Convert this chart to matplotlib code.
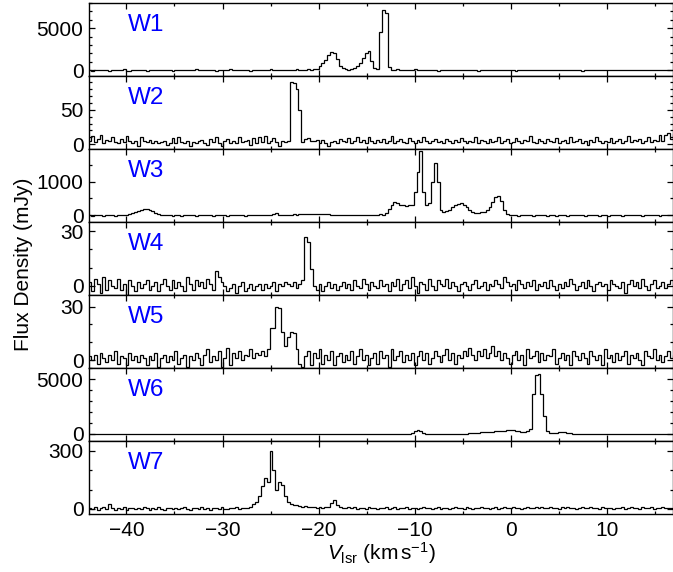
import numpy as np
import matplotlib
matplotlib.use("Agg")
import matplotlib.pyplot as plt
from matplotlib.ticker import FixedLocator, MultipleLocator

plt.rcParams['font.family'] = ['Liberation Sans', 'DejaVu Sans']
plt.rcParams['mathtext.fontset'] = 'custom'
plt.rcParams['mathtext.rm'] = 'Liberation Sans'
plt.rcParams['mathtext.it'] = 'Liberation Sans:italic'

# channel grid (km/s)
V_START = -44.0
CHAN = 0.3

names = ["W1", "W2", "W3", "W4", "W5", "W6", "W7"]

w1 = [20, -60, 10, 70, -40, 0, 50, -70, 10, 40,
      -10, 70, 90, -50, -80, 10, 60, -40, 0, 50,
      -60, 10, 70, 0, -40, 40, -10, 60, 0, -60,
      10, 50, -40, 0, 60, -10, 10, 80, -40, 0,
      40, -10, 0, 60, -60, 10, 40, -10, 0, 80,
      -40, 10, 60, 0, -10, 40, -60, 10, 0, 60,
      40, -40, 10, 80, 0, -10, 40, 60, -40, 10,
      0, 60, 90, 60, 0, 40, 100, 30, 80, 100,
      500, 900, 1200, 1800, 2150, 2000, 1300, 500, 200, 80,
      60, 100, 200, 500, 900, 1400, 2100, 2300, 1100, 200,
      150, 4500, 7200, 6800, 400, 60, 30, 80, 20, -30,
      60, 0, 40, 80, -40, 10, 60, 0, -40, 40,
      10, -60, 40, 0, 60, -10, 40, 10, -40, 0,
      60, 10, -40, 40, 0, -60, 10, 40, -10, 60,
      0, 40, -40, 10, 60, -10, 0, 40, -60, 10,
      40, 0, -40, 60, 10, -10, 40, 0, -40, 10,
      60, -10, 0, 40, -40, 10, 60, 0, -10, 40,
      0, -60, 40, 10, -10, 60, 0, 40, -40, 10,
      40, -10, 0, 60, -40, 10, 40, -10, 0, 40,
      -40, 10, 60, 0, -10, 40, 0, -40, 60, 10,
      0, 40, -10, 10]

w2 = [5, 12, 3, 8, 13, 2, 6, 4, 10, 3,
      1, 7, 3, 12, 4, 2, 5, -2, 11, 4,
      3, 6, 2, 4, 1, 3, 5, -1, 2, 9,
      1, 10, 3, 2, 5, -2, 3, 1, 4, 6,
      2, -1, 7, 3, 10, 2, -3, 4, 8, 1,
      5, 2, 11, 3, 4, 6, -1, 9, 2, 10,
      3, 12, 1, 4, 9, 3, -2, 5, 3, 4,
      90, 89, 80, 50, 3, 8, 9, 5, 4, 6,
      2, 6, 1, -2, 3, 5, 2, 7, 4, 3,
      9, 1, 5, 11, 3, 6, 2, 10, 4, 1,
      6, 3, 8, 2, 5, 12, 1, 4, 7, 3,
      2, 9, 4, 1, 6, 3, 10, 5, 2, 4,
      8, 3, 5, 1, 7, 4, 2, 6, 3, 9,
      4, 1, 5, 3, 10, 2, 6, 4, 1, 8,
      3, 5, 11, 2, 4, 7, 1, 3, 9, 5,
      2, 6, 4, 12, 3, 1, 8, 4, 2, 7,
      5, 3, 9, 1, 4, 6, 2, 11, 3, 5,
      8, 2, 4, -1, 6, 3, 10, 4, 2, 5,
      3, 9, 1, 5, 7, 2, 4, 12, 3, 6,
      4, 8, 2, 5, 11, 3, 6, 4, 13, 5,
      14, 16, 7, 15]

w3 = [10, -10, 20, 0, 10, -20, 10, 20, 0, -10,
      10, 0, 20, 20, 40, 60, 90, 120, 160, 190,
      200, 170, 120, 70, 40, 20, 10, 0, 20, -10,
      10, 0, -10, 20, 10, 0, 10, -10, 20, 0,
      10, 20, 0, -10, 10, 0, 20, 10, -10, 0,
      20, 10, 0, 10, -10, 20, 0, 10, 10, 0,
      10, 20, 10, 20, 30, 60, 20, 10, 20, 10,
      20, 30, 20, 40, 30, 40, 50, 40, 50, 40,
      50, 40, 30, 40, 20, 10, 20, 0, 10, 20,
      0, 10, 20, 10, 0, 20, 10, 0, 10, 20,
      10, 30, 20, 60, 200, 300, 380, 360, 300, 320,
      280, 300, 300, 700, 1300, 1900, 700, 300, 350, 1000,
      1550, 1000, 150, 110, 120, 170, 240, 300, 340, 355,
      320, 250, 170, 110, 70, 80, 100, 110, 160, 260,
      400, 540, 560, 420, 150, 30, 10, 0, 10, -10,
      10, 0, 20, 10, -10, 0, 10, 20, 0, -10,
      10, 0, -10, 10, 20, 0, -10, 10, 0, 20,
      0, 10, -10, 0, 10, 20, 0, -10, 10, 0,
      -10, 10, 0, 20, 10, -10, 0, 10, 0, 20,
      10, 0, -10, 10, 0, 20, 10, 0, -10, 10,
      0, 10, 0, 10]

w4 = [2, -3, 4, 1, -4, 5, -2, 3, 0, -1,
      4, -2, 1, -5, 3, 0, -3, 2, -1, 1,
      3, -2, 0, 2, -3, 1, 4, 0, -2, 3,
      -1, 2, 0, -3, 5, 1, -2, 3, 0, 2,
      -1, 4, 1, -2, 8, 5, 2, 0, -3, -1,
      1, -4, 0, 2, -3, -1, 1, -2, 0, 1,
      -2, 1, -1, 0, 2, -3, 1, 0, 2, 1,
      0, 2, -1, 1, 3, 27, 24, 9, 0, -2,
      1, -3, 0, 2, -1, 1, -2, 0, 2, -1,
      1, -2, 3, 0, -1, 4, 1, -2, 2, 0,
      -1, 3, 0, 1, -3, 2, 0, 4, -2, 1,
      3, -1, 5, 0, -4, 2, 1, -2, 4, 0,
      -2, 3, 1, 0, 4, -1, 2, 0, -3, 1,
      2, 0, -2, 1, 3, -1, 0, 2, -2, 1,
      0, 3, 1, -1, 5, 2, 0, 1, -2, 3,
      1, -1, 2, 0, 3, -2, 1, 0, 2, -1,
      3, 0, -2, 1, -1, 2, 0, 4, 1, -2,
      0, 2, -1, 3, 0, -3, 1, 2, 0, 1,
      -2, 3, 1, 0, -1, 2, -4, 1, 3, 0,
      2, -1, 4, 0, -2, 1, 3, -1, 0, 2,
      -1, 1, 3, 0]

w5 = [2, 0, 3, -2, 4, 1, -1, 3, 0, 5,
      -2, 2, 1, -3, 4, 0, 2, -1, 3, 1,
      -3, 2, 0, 4, -4, 1, 3, -1, 2, 0,
      5, -2, 1, 3, -4, 2, 0, 4, 1, -3,
      3, 6, -1, 2, 0, 5, -4, 1, 7, -3,
      4, 1, 5, 0, 3, 2, 6, 1, 4, 3,
      5, 2, 6, 18, 18, 30, 29, 16, 8, 13,
      16, 15, 6, -2, -4, 2, 5, -3, 4, 1,
      6, -2, 3, 0, 5, -3, 2, 4, -1, 3,
      0, 5, -2, 2, 6, 0, 3, -3, 1, 4,
      -2, 5, 1, 3, -4, 6, 0, 2, 5, -1,
      3, 0, 4, -3, 2, 5, 0, 4, -2, 1,
      5, 2, -1, 3, 6, 0, 4, -2, 3, 1,
      5, 2, 7, 3, 0, 5, 2, 6, 1, 4,
      8, 2, 5, 0, 4, 1, -2, 3, 5, 0,
      3, -3, 6, 1, 2, 5, -1, 4, 0, 3,
      2, 6, -2, 1, 4, 0, 3, -3, 5, 2,
      0, 4, 1, -2, 5, 2, 0, 3, -3, 6,
      1, 3, -1, 4, 0, 2, 5, -2, 3, 1,
      4, 0, -3, 5, 2, 1, 6, 0, 3, -1,
      2, 5, 1, 3]

w6 = [10, 0, 10, 5, 0, 10, 5, 0, 10, 0,
      5, 10, 0, 5, 10, 0, 5, 0, 10, 5,
      0, 10, 5, 0, 5, 10, 0, 5, 10, 0,
      5, 0, 10, 5, 0, 10, 0, 5, 10, 0,
      10, 5, 0, 10, 5, 0, 10, 5, 0, 10,
      0, 5, 10, 0, 5, 10, 5, 0, 10, 5,
      0, 10, 5, 0, 10, 5, 0, 5, 10, 0,
      5, 10, 0, 5, 10, 0, 5, 10, 0, 5,
      10, 0, 5, 10, 0, 5, 10, 0, 5, 10,
      0, 5, 10, 0, 5, 10, 0, 10, 5, 0,
      10, 5, 0, 10, 5, 0, 10, 5, 0, 10,
      5, 20, 120, 300, 370, 250, 80, 20, 10, 5,
      10, 5, 10, 0, 10, 5, 10, 5, 10, 20,
      30, 45, 60, 80, 100, 120, 140, 160, 180, 200,
      220, 240, 260, 280, 300, 320, 330, 320, 280, 240,
      220, 210, 230, 450, 3700, 5400, 5500, 3700, 1600, 250,
      80, 60, 100, 170, 220, 200, 130, 70, 40, 20,
      10, 5, 10, 0, 10, 5, 0, 10, 5, 0,
      10, 5, 0, 10, 5, 10, 0, 5, 10, 0,
      5, 10, 0, 5, 10, 0, 10, 5, 0, 10,
      5, 0, 10, 5]

w7 = [5, 0, 8, -3, 4, 10, 2, 25, 3, -5,
      6, 2, 9, -4, 3, 7, 0, 5, -2, 8,
      4, -3, 6, 1, 9, 2, -5, 5, 3, 0,
      7, -2, 4, 8, 1, -4, 6, 3, 0, 9,
      2, 5, -3, 7, 4, 0, 8, 2, -2, 6,
      3, 9, 1, 5, 7, 4, 10, 25, 35, 65,
      120, 160, 140, 300, 200, 100, 140, 125, 65, 35,
      25, 22, 18, 15, 12, 16, 10, 8, 12, 6,
      10, 5, 12, 8, 30, 45, 20, 10, 6, 3,
      8, 4, 10, 2, 7, 5, 0, 9, 3, 6,
      1, 7, 4, 10, 2, 5, 8, 0, 6, 3,
      9, 2, 5, 7, 0, 4, 8, 3, 6, 1,
      5, 10, 2, 7, 4, 0, 6, 9, 3, 5,
      2, 8, 4, 1, 7, 5, 10, 3, 6, 0,
      4, 9, 2, 6, 8, 3, 5, 11, 4, 7,
      2, 6, 9, 4, 7, 12, 5, 8, 3, 6,
      10, 4, 7, 2, 8, 5, 9, 3, 6, 1,
      5, 8, 3, 7, 10, 4, 6, 2, 9, 5,
      3, 7, 1, 6, 4, 9, 2, 5, 8, 4,
      6, 2, 10, 5, 3, 8, 1, 7, 4, 9,
      5, 3, 7, 2]

spectra = [w1, w2, w3, w4, w5, w6, w7]
ylims = [(-700, 8000), (-7, 99), (-200, 1970), (-5, 35), (-4.5, 36.6), (-640, 6030), (-26, 350)]
ymajor = [[0, 5000], [0, 50], [0, 1000], [0, 30], [0, 30], [0, 5000], [0, 300]]
yminor = [1000, 10, 500, 10, 10, 1000, 100]
xticks = [-40, -30, -20, -10, 0, 10]

W, H = 673, 572
fig = plt.figure(figsize=(W / 100, H / 100), dpi=100)
left = 89 / W
top_px, h_px = 3, 73
for k, (name, vals) in enumerate(zip(names, spectra)):
    b = 1 - (top_px + h_px * (k + 1)) / H
    ax = fig.add_axes([left, b, 1.0 - left, h_px / H])
    vals = np.asarray(vals, dtype=float)
    edges = V_START + CHAN * np.arange(len(vals) + 1)
    ax.stairs(vals, edges, baseline=None, color='black', lw=0.9)
    ax.set_xlim(-43.9, 16.9)
    ax.set_ylim(*ylims[k])
    ax.xaxis.set_major_locator(FixedLocator(xticks))
    ax.xaxis.set_minor_locator(MultipleLocator(5))
    ax.yaxis.set_major_locator(FixedLocator(ymajor[k]))
    ax.yaxis.set_minor_locator(MultipleLocator(yminor[k]))
    ax.tick_params(axis='both', which='both', direction='in', top=True, right=True,
                   width=0.9)
    ax.tick_params(axis='both', which='major', length=4, labelsize=15, pad=4)
    ax.tick_params(axis='both', which='minor', length=2.2)
    ax.tick_params(axis='x', which='major', pad=5)
    for s in ax.spines.values():
        s.set_linewidth(1.0)
    if k < len(names) - 1:
        ax.tick_params(axis='x', labelbottom=False)
    ax.text(0.067, 0.70, name, transform=ax.transAxes, color='blue',
            fontsize=17.5, ha='left', va='center')

fig.text(24 / W, 1 - 264 / H, 'Flux Density (mJy)', rotation=90, fontsize=15,
         ha='center', va='center')
fig.text(381 / W, 1 - 553 / H, r'$V_{\rm lsr}$ (km$\,$s$^{-1}$)', fontsize=15,
         ha='center', va='center')

fig.savefig('out.png', dpi=100)
